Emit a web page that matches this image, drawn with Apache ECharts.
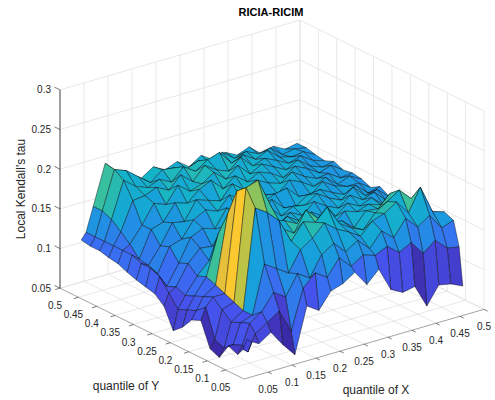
<!DOCTYPE html>
<html>
<head>
<meta charset="utf-8">
<script src="https://cdn.jsdelivr.net/npm/echarts@6/dist/echarts.min.js"></script>
<style>
  html, body { margin: 0; padding: 0; background: #fff; }
  #chart { width: 495px; height: 400px; }
</style>
</head>
<body>
<div id="chart"></div>
<script>
// grid of quantiles (x = quantile of X, y = quantile of Y)
const qX = [0.025, 0.035, 0.05, 0.075, 0.1, 0.125, 0.15, 0.175, 0.2, 0.225, 0.25, 0.275, 0.3, 0.325, 0.35, 0.375, 0.4, 0.425, 0.45, 0.475];
const qY = [0.025, 0.035, 0.05, 0.075, 0.1, 0.125, 0.15, 0.175, 0.2, 0.225, 0.25, 0.275, 0.3, 0.325, 0.35, 0.375, 0.4, 0.425, 0.45, 0.475];

// local Kendall's tau, one row per qY value, one column per qX value
const tau = [
  [0.09, 0.085, 0.08, 0.09, 0.07, 0.053, 0.11, 0.1, 0.12, 0.125, 0.135, 0.115, 0.13, 0.1, 0.092, 0.095, 0.066, 0.088, 0.085, 0.078],
  [0.075, 0.07, 0.09, 0.1, 0.11, 0.08, 0.13, 0.145, 0.135, 0.155, 0.14, 0.15, 0.145, 0.152, 0.14, 0.148, 0.13, 0.142, 0.128, 0.125],
  [0.065, 0.075, 0.1, 0.11, 0.13, 0.12, 0.145, 0.135, 0.16, 0.17, 0.155, 0.165, 0.15, 0.168, 0.155, 0.175, 0.16, 0.17, 0.15, 0.155],
  [0.07, 0.07, 0.095, 0.1, 0.16, 0.15, 0.14, 0.165, 0.175, 0.19, 0.178, 0.17, 0.16, 0.175, 0.18, 0.19, 0.172, 0.2, 0.165, 0.16],
  [0.05, 0.06, 0.09, 0.1, 0.225, 0.215, 0.2, 0.17, 0.19, 0.185, 0.2, 0.175, 0.165, 0.158, 0.175, 0.185, 0.195, 0.18, 0.175, 0.15],
  [0.055, 0.065, 0.1, 0.105, 0.245, 0.25, 0.215, 0.18, 0.17, 0.195, 0.18, 0.17, 0.168, 0.155, 0.172, 0.17, 0.185, 0.17, 0.16, 0.155],
  [0.085, 0.1, 0.11, 0.11, 0.235, 0.235, 0.22, 0.185, 0.18, 0.172, 0.178, 0.165, 0.158, 0.17, 0.165, 0.17, 0.165, 0.17, 0.155, 0.16],
  [0.08, 0.09, 0.105, 0.115, 0.2, 0.22, 0.21, 0.19, 0.168, 0.175, 0.165, 0.172, 0.162, 0.158, 0.17, 0.162, 0.168, 0.155, 0.162, 0.15],
  [0.065, 0.085, 0.1, 0.12, 0.17, 0.18, 0.18, 0.18, 0.178, 0.16, 0.17, 0.162, 0.175, 0.165, 0.158, 0.17, 0.16, 0.165, 0.15, 0.148],
  [0.055, 0.08, 0.095, 0.115, 0.13, 0.15, 0.165, 0.172, 0.16, 0.175, 0.16, 0.168, 0.165, 0.175, 0.165, 0.158, 0.17, 0.155, 0.158, 0.145],
  [0.08, 0.095, 0.1, 0.125, 0.14, 0.138, 0.158, 0.165, 0.175, 0.16, 0.175, 0.16, 0.158, 0.168, 0.17, 0.162, 0.155, 0.162, 0.148, 0.152],
  [0.09, 0.11, 0.095, 0.12, 0.148, 0.155, 0.15, 0.172, 0.16, 0.178, 0.165, 0.172, 0.175, 0.16, 0.158, 0.17, 0.16, 0.155, 0.155, 0.145],
  [0.093, 0.115, 0.105, 0.135, 0.14, 0.16, 0.168, 0.162, 0.178, 0.168, 0.18, 0.165, 0.162, 0.175, 0.168, 0.158, 0.165, 0.152, 0.158, 0.15],
  [0.096, 0.115, 0.11, 0.13, 0.155, 0.152, 0.175, 0.17, 0.165, 0.182, 0.17, 0.178, 0.17, 0.165, 0.175, 0.165, 0.158, 0.16, 0.15, 0.152],
  [0.1, 0.12, 0.112, 0.145, 0.15, 0.17, 0.165, 0.178, 0.185, 0.17, 0.182, 0.17, 0.178, 0.172, 0.162, 0.172, 0.165, 0.155, 0.16, 0.15],
  [0.105, 0.12, 0.125, 0.145, 0.168, 0.162, 0.182, 0.17, 0.175, 0.185, 0.172, 0.185, 0.17, 0.178, 0.17, 0.162, 0.17, 0.158, 0.152, 0.155],
  [0.107, 0.12, 0.135, 0.17, 0.172, 0.178, 0.17, 0.185, 0.172, 0.188, 0.178, 0.172, 0.185, 0.17, 0.175, 0.168, 0.16, 0.165, 0.155, 0.15],
  [0.11, 0.12, 0.145, 0.19, 0.178, 0.172, 0.178, 0.17, 0.185, 0.175, 0.185, 0.19, 0.172, 0.178, 0.168, 0.175, 0.162, 0.158, 0.16, 0.152],
  [0.11, 0.12, 0.15, 0.198, 0.192, 0.18, 0.168, 0.18, 0.178, 0.172, 0.178, 0.17, 0.18, 0.168, 0.172, 0.165, 0.168, 0.155, 0.158, 0.155],
  [0.112, 0.12, 0.15, 0.2, 0.185, 0.175, 0.168, 0.178, 0.17, 0.176, 0.165, 0.175, 0.165, 0.17, 0.162, 0.168, 0.155, 0.16, 0.152, 0.155]
];

const xTicks = [0.05, 0.1, 0.15, 0.2, 0.25, 0.3, 0.35, 0.4, 0.45, 0.5];
const yTicks = [0.05, 0.1, 0.15, 0.2, 0.25, 0.3, 0.35, 0.4, 0.45, 0.5];
const zTicks = [0.05, 0.1, 0.15, 0.2, 0.25, 0.3];

// axis box limits and view (matlab default az -37.5, el 30)
const XLIM = [0, 0.5], YLIM = [0, 0.5], ZLIM = [0.05, 0.3];
const AZ = 37.5 * Math.PI / 180, EL = 30 * Math.PI / 180;
const cA = Math.cos(AZ), sA = Math.sin(AZ), cE = Math.cos(EL), sE = Math.sin(EL);

function norm(x, y, z) {
    return [(x - XLIM[0]) / (XLIM[1] - XLIM[0]) - 0.5,
            (y - YLIM[0]) / (YLIM[1] - YLIM[0]) - 0.5,
            (z - ZLIM[0]) / (ZLIM[1] - ZLIM[0]) - 0.5];
}
function project(x, y, z) {
    const [a, b, c] = norm(x, y, z);
    return [a * cA - b * sA, (a * sA + b * cA) * sE + c * cE];
}
function depth(x, y) {
    const [a, b] = norm(x, y, ZLIM[0]);
    return a * sA + b * cA;
}

const parula = ['#3b2aa8', '#4540d0', '#4652ec', '#3a6ef2', '#2588e6', '#18a0dc',
                '#14b4c8', '#3cc09a', '#a8c448', '#fcbe36', '#f7e51c'];

// faces: [ix, iy, colour value (vertex at max x, min y), depth]
let faces = [];
for (let j = 0; j < qY.length - 1; j++) {
    for (let i = 0; i < qX.length - 1; i++) {
        faces.push([i, j, tau[j][i + 1], depth((qX[i] + qX[i + 1]) / 2, (qY[j] + qY[j + 1]) / 2)]);
    }
}
faces.sort((p, q) => q[3] - p[3]);

// grid lines on the back walls and the floor
let gridLines = [];
xTicks.forEach(t => {
    gridLines.push([t, YLIM[0], ZLIM[0], t, YLIM[1], ZLIM[0]]);
    gridLines.push([t, YLIM[1], ZLIM[0], t, YLIM[1], ZLIM[1]]);
});
yTicks.forEach(t => {
    gridLines.push([XLIM[0], t, ZLIM[0], XLIM[1], t, ZLIM[0]]);
    gridLines.push([XLIM[1], t, ZLIM[0], XLIM[1], t, ZLIM[1]]);
});
zTicks.forEach(t => {
    gridLines.push([XLIM[0], YLIM[1], t, XLIM[1], YLIM[1], t]);
    gridLines.push([XLIM[1], YLIM[0], t, XLIM[1], YLIM[1], t]);
});
gridLines.push([XLIM[1], YLIM[0], ZLIM[0], XLIM[1], YLIM[0], ZLIM[1]]);

const axisLines = [
    [XLIM[0], YLIM[0], ZLIM[0], XLIM[1], YLIM[0], ZLIM[0]],
    [XLIM[0], YLIM[0], ZLIM[0], XLIM[0], YLIM[1], ZLIM[0]]
];
const zAxisLine = [[XLIM[0], YLIM[1], ZLIM[0], XLIM[0], YLIM[1], ZLIM[1]]];

const FONT = '"Liberation Sans", Arial, Helvetica, sans-serif';
const TXT = '#262626';

function segment(color, width) {
    return function (params, api) {
        const p1 = api.coord(project(api.value(0), api.value(1), api.value(2)));
        const p2 = api.coord(project(api.value(3), api.value(4), api.value(5)));
        return {type: 'line', shape: {x1: p1[0], y1: p1[1], x2: p2[0], y2: p2[1]},
                style: {stroke: color, lineWidth: width}};
    };
}

function tickLabel(toPoint, tickDir, dx, dy, align) {
    return function (params, api) {
        const v = api.value(0);
        const p = toPoint(v);
        const p1 = api.coord(project(p[0], p[1], p[2]));
        const p2 = api.coord(project(p[0] + tickDir[0], p[1] + tickDir[1], p[2] + tickDir[2]));
        return {type: 'group', children: [
            {type: 'line', shape: {x1: p1[0], y1: p1[1], x2: p2[0], y2: p2[1]},
             style: {stroke: TXT, lineWidth: 0.6}},
            {type: 'text', x: p1[0] + dx, y: p1[1] + dy,
             style: {text: String(v), fill: TXT, fontSize: 10, fontFamily: FONT,
                     align: align, verticalAlign: 'middle'}}
        ]};
    };
}

const chart = echarts.init(document.getElementById('chart'), null, {renderer: 'svg'});

chart.setOption({
    animation: false,
    backgroundColor: '#fff',
    grid: {left: 0, right: 0, top: 0, bottom: 0},
    xAxis: {type: 'value', min: -0.89947, max: 0.73743, show: false},
    yAxis: {type: 'value', min: -0.87511, max: 0.87162, show: false},
    visualMap: {
        type: 'continuous', show: false, seriesIndex: 1, dimension: 2,
        min: 0.06, max: 0.26, inRange: {color: parula}
    },
    graphic: [
        {type: 'text', x: 271, y: 12,
         style: {text: 'RICIA-RICIM', fill: '#000', fontSize: 11, fontWeight: 'bold', fontFamily: FONT,
                 align: 'center', verticalAlign: 'middle'}},
        {type: 'text', x: 376, y: 390,
         style: {text: 'quantile of X', fill: TXT, fontSize: 12, fontFamily: FONT,
                 align: 'center', verticalAlign: 'middle'}},
        {type: 'text', x: 126, y: 386,
         style: {text: 'quantile of Y', fill: TXT, fontSize: 12, fontFamily: FONT,
                 align: 'center', verticalAlign: 'middle'}},
        {type: 'text', x: 21, y: 189, rotation: Math.PI / 2,
         style: {text: "Local Kendall's tau", fill: TXT, fontSize: 12, fontFamily: FONT,
                 align: 'center', verticalAlign: 'middle'}}
    ],
    series: [
        {type: 'custom', name: 'grid', silent: true, data: gridLines,
         renderItem: segment('#e2e2e2', 0.8)},
        {type: 'custom', name: 'surface', silent: true, data: faces,
         renderItem: function (params, api) {
             const i = api.value(0), j = api.value(1);
             const pts = [[i, j], [i + 1, j], [i + 1, j + 1], [i, j + 1]].map(
                 ([a, b]) => api.coord(project(qX[a], qY[b], tau[b][a])));
             return {type: 'polygon', shape: {points: pts},
                     style: {fill: api.visual('color'), stroke: 'rgba(0,0,0,0.8)', lineWidth: 0.5}};
         }},
        {type: 'custom', name: 'axes', silent: true, data: axisLines,
         renderItem: segment('#8c8c8c', 0.8)},
        {type: 'custom', name: 'zaxis', silent: true, data: zAxisLine,
         renderItem: segment(TXT, 0.9)},
        {type: 'custom', name: 'xticks', silent: true, data: xTicks.map(v => [v]),
         renderItem: tickLabel(v => [v, YLIM[0], ZLIM[0]], [0, -0.01, 0], 0, 17.5, 'center')},
        {type: 'custom', name: 'yticks', silent: true, data: yTicks.map(v => [v]),
         renderItem: tickLabel(v => [XLIM[0], v, ZLIM[0]], [-0.01, 0, 0], -5, 17.5, 'center')},
        {type: 'custom', name: 'zticks', silent: true, data: zTicks.map(v => [v]),
         renderItem: tickLabel(v => [XLIM[0], YLIM[1], v], [0, 0.015, 0], -9, 0, 'right')}
    ]
});

window.addEventListener('resize', function () {
    chart.resize();
});
</script>
</body>
</html>
